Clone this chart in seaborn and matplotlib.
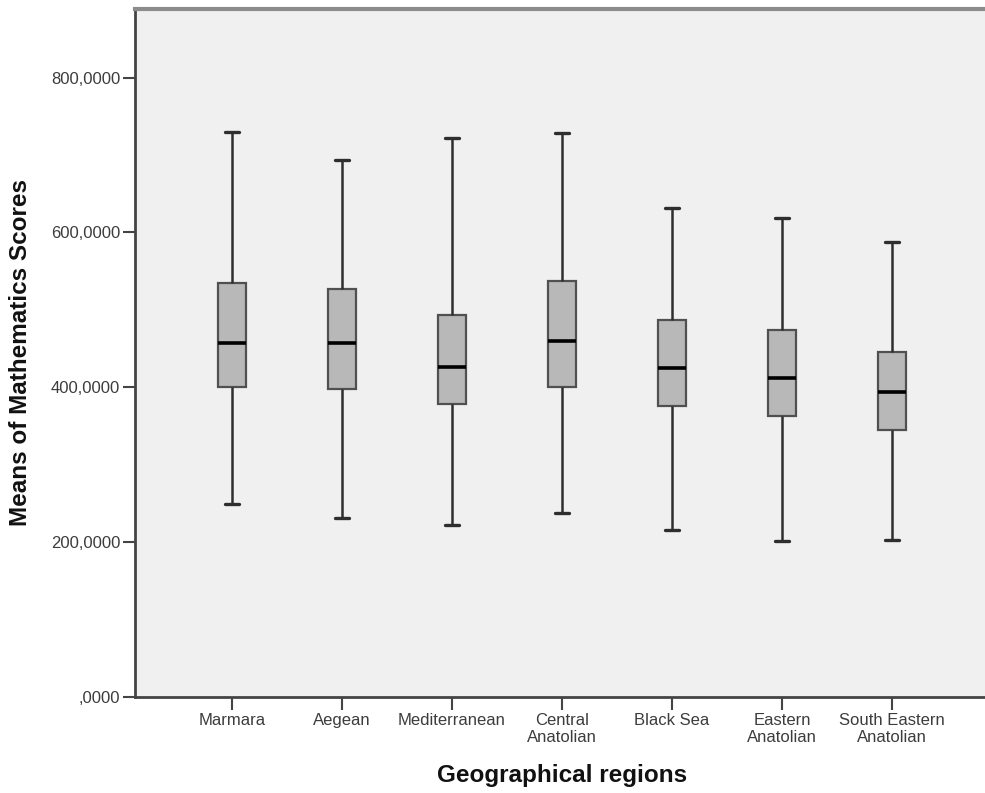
import pandas as pd
import matplotlib
matplotlib.use('Agg')
import matplotlib.pyplot as plt
import seaborn as sns

# five-number summaries
regions = ['Marmara', 'Aegean', 'Mediterranean', 'Central\nAnatolian', 'Black Sea',
           'Eastern\nAnatolian', 'South Eastern\nAnatolian']
whisker_low = [249, 231, 222, 238, 215, 201, 202]
q1 = [400, 398, 378, 400, 375, 363, 345]
median = [457, 457, 426, 460, 425, 412, 394]
q3 = [535, 527, 493, 537, 487, 474, 446]
whisker_high = [729, 694, 722, 728, 632, 619, 587]

ytick_values = [0, 200, 400, 600, 800]
ytick_labels = [',0000', '200,0000', '400,0000', '600,0000', '800,0000']

rows = []
for i, r in enumerate(regions):
    for v in (whisker_low[i], q1[i], median[i], q3[i], whisker_high[i]):
        rows.append({'region': r, 'score': v})
df = pd.DataFrame(rows)

sns.set_style('white')
plt.rcParams['font.family'] = ['Liberation Sans', 'DejaVu Sans']

fig = plt.figure(figsize=(9.85, 7.93), dpi=100)
ax = fig.add_axes([0.137, 0.1214, 0.863, 0.8672])
ax.set_facecolor('#f0f0f0')

sns.boxplot(x='region', y='score', data=df, order=regions, ax=ax,
            whis=(0, 100), width=0.255, showfliers=False, saturation=1,
            color='#b8b8b8', linecolor='#3a3a3a', linewidth=1.5,
            boxprops=dict(facecolor='#b8b8b8', edgecolor='#505050', linewidth=1.6),
            whiskerprops=dict(color='#2e2e2e', linewidth=1.8),
            capprops=dict(color='#2e2e2e', linewidth=2.4),
            medianprops=dict(color='black', linewidth=2.6))

ax.set_xlim(-0.882, 6.845)
ax.set_ylim(0, 888.5)
ax.set_yticks(ytick_values)
ax.set_yticklabels(ytick_labels)

ax.tick_params(axis='both', direction='out', length=9, width=1.5, color='#444444',
               labelsize=12, labelcolor='#3c3c3c', pad=1.5, left=True, bottom=True)
ax.tick_params(axis='x', labelsize=12, pad=3)
for lbl in ax.get_xticklabels():
    lbl.set_linespacing(1.1)

for side in ('left', 'bottom'):
    ax.spines[side].set_color('#444444')
    ax.spines[side].set_linewidth(2)
ax.spines['top'].set_color('#8c8c8c')
ax.spines['top'].set_linewidth(3)
ax.spines['right'].set_visible(False)

ax.set_xlabel('Geographical regions', fontsize=17.5, fontweight='bold', color='#111111')
ax.set_ylabel('Means of Mathematics Scores', fontsize=17.5, fontweight='bold', color='#111111')
ax.xaxis.set_label_coords(0.503, -0.098)
ax.yaxis.set_label_coords(-0.121, 0.5)

plt.savefig('out.png', dpi=100)
